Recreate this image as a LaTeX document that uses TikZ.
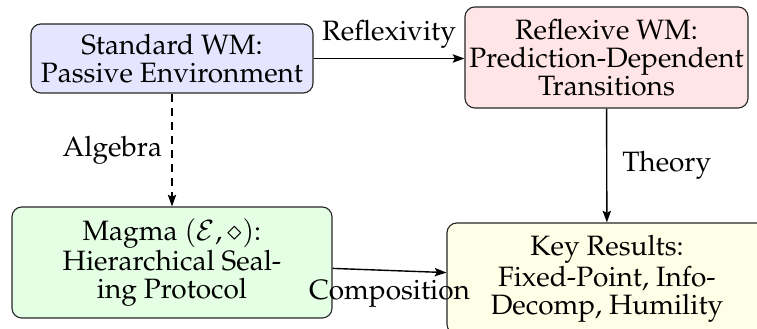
\documentclass[tikz,border=0pt]{standalone}
\usepackage[T1]{fontenc}
\usepackage{mathpazo}
\usetikzlibrary{arrows.meta,calc}
\begin{document}
\begin{tikzpicture}[
  x=0.357pt, y=-0.357pt,
  box/.style={draw=black!85, line width=0.4pt, rounded corners=3.5pt,
    align=center, inner sep=0pt, font=\fontsize{10}{10}\selectfont},
  link/.style={line width=0.5pt, -{Stealth[length=4.2pt,width=3pt,inset=0.8pt]}},
  lbl/.style={font=\fontsize{10}{10}\selectfont, inner sep=3.3pt}
]
\useasboundingbox (0,0) rectangle (757,329);

\node[box, fill=blue!10, minimum width={282*0.357pt}, minimum height={69*0.357pt}]
  (std) at (172,58.5) {Standard WM:\\Passive Environment};
\node[box, fill=red!10, minimum width={283*0.357pt}, minimum height={101*0.357pt}]
  (refl) at (606.5,57.5) {Reflexive WM:\\Prediction-Dependent\\Transitions};
\node[box, fill=green!10, minimum width={320*0.357pt}, minimum height={111*0.357pt}]
  (mag) at (172,262.5) {Magma $(\mathcal{E},\diamond)$:\\Hierarchical Seal-\\ing Protocol};
\node[box, fill=yellow!10, minimum width={320*0.357pt}, minimum height={111*0.357pt}]
  (key) at (607,278.5) {Key Results:\\Fixed-Point, Info-\\Decomp, Humility};

\draw[link] (std) -- node[lbl, above] {Reflexivity} (std -| refl.west);
\draw[link] (refl) -- node[lbl, right, xshift=2pt] {Theory} (key);
\draw[link, dash pattern=on 3pt off 2pt] (std) -- node[lbl, left] {Algebra} (mag);
\draw[link] (mag) -- node[lbl, below] {Composition} (key);
\end{tikzpicture}
\end{document}
